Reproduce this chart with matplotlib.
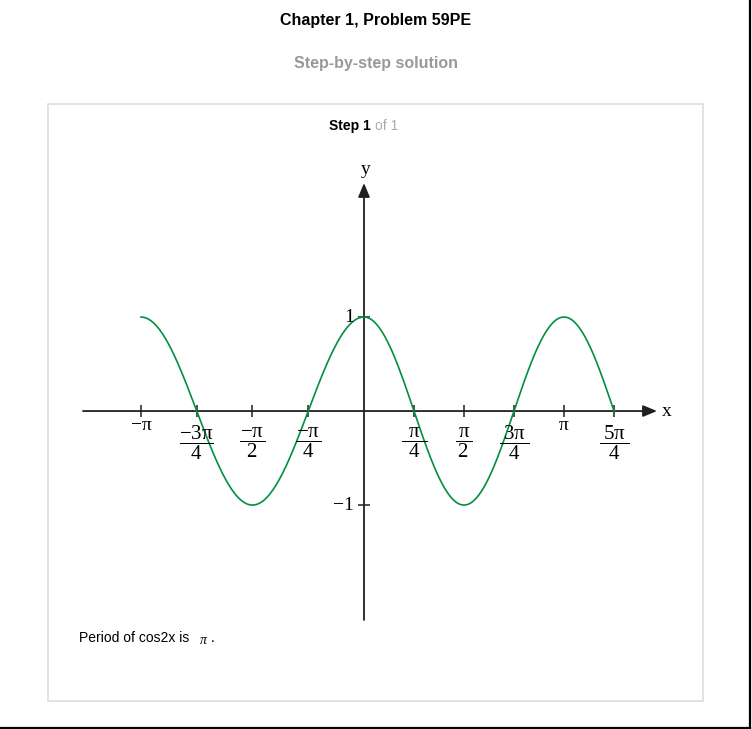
import numpy as np
import matplotlib
matplotlib.use('Agg')
import matplotlib.pyplot as plt
from matplotlib.patches import Rectangle

plt.rcParams['font.family'] = ['Liberation Sans', 'DejaVu Sans']
plt.rcParams['mathtext.fontset'] = 'custom'
plt.rcParams['mathtext.rm'] = 'Liberation Serif'
plt.rcParams['mathtext.it'] = 'Liberation Serif'
plt.rcParams['mathtext.bf'] = 'Liberation Serif:bold'

# x in units of pi
x_ticks = [-1, -0.75, -0.5, -0.25, 0.25, 0.5, 0.75, 1, 1.25]
x_labels = ['\u2212\u03c0', r'$\dfrac{-3\pi}{\;\;4\;\;}$', r'$\dfrac{-\pi}{\;\,2\;\,}$',
            r'$\dfrac{-\pi}{\;\,4\;\,}$', r'$\dfrac{\pi}{\;\,4\;\,}$', r'$\dfrac{\pi}{\,2\,}$',
            r'$\dfrac{3\pi}{\;\;4\;\;}$', '\u03c0', r'$\dfrac{5\pi}{\;\;4\;\;}$']
y_ticks = [1, -1]
y_labels = ['1', '\u22121']
x_start, x_end = -1, 1.25  # curve drawn from -pi to 5pi/4

W, H = 752, 729
fig = plt.figure(figsize=(W / 100, H / 100), dpi=100)

# page layer in pixel coords
page = fig.add_axes([0, 0, 1, 1])
page.set_xlim(0, W)
page.set_ylim(H, 0)
page.axis('off')
page.add_patch(Rectangle((48, 104), 655, 597, fill=False, ec='#dddddd', lw=1.2))
page.plot([0, 750], [727.5, 727.5], color='black', lw=1.6)
page.plot([749.5, 749.5], [0, 727.5], color='black', lw=1.6)
page.text(376, 20, 'Chapter 1, Problem 59PE', ha='center', va='center',
          fontsize=11.5, fontweight='bold', color='black')
page.text(376, 63, 'Step-by-step solution', ha='center', va='center',
          fontsize=11.5, fontweight='bold', color='#999999')
page.text(371, 126, 'Step 1', ha='right', va='center', fontsize=10,
          fontweight='bold', color='black')
page.text(375, 126, 'of 1', ha='left', va='center', fontsize=10, color='#aaaaaa')
page.text(79, 638, 'Period of cos2x is', ha='left', va='center', fontsize=10)
page.text(200, 640, '\u03c0', ha='left', va='center', fontsize=10,
          family='Liberation Serif', style='italic')
page.text(211, 638, '.', ha='left', va='center', fontsize=10)

# plot axes: left side of the drawing is stretched a bit compared to the right
K = 1.115
def fwd(t):
    t = np.asarray(t, dtype=float)
    return np.where(t < 0, t * K, t)
def inv(s):
    s = np.asarray(s, dtype=float)
    return np.where(s < 0, s / K, s)

ax = fig.add_axes([83 / W, 109 / H, 574 / W, 437 / H])
ax.set_xscale('function', functions=(fwd, inv))
ax.set_xlim(-1.26, 1.465)
ax.set_ylim(-2.223, 2.426)
ax.axis('off')
ax.patch.set_alpha(0)

axis_col = '#231f20'
arr = dict(arrowstyle='-|>,head_length=0.6,head_width=0.25', mutation_scale=14,
           color=axis_col, lw=1.3, shrinkA=0, shrinkB=0)
x0, x1 = ax.get_xlim()
y0, y1 = ax.get_ylim()
ax.annotate('', xy=(x1, 0), xytext=(x0, 0), arrowprops=arr)
ax.annotate('', xy=(0, y1), xytext=(0, y0), arrowprops=arr)
ax.annotate('x', xy=(x1, 0), xytext=(7, 0), textcoords='offset points',
            ha='center', va='center', fontsize=14, family='Liberation Serif')
ax.annotate('y', xy=(0, y1), xytext=(1.5, 10), textcoords='offset points',
            ha='center', va='center', fontsize=14, family='Liberation Serif')

t = np.linspace(x_start, x_end, 600)
ax.plot(t, np.cos(2 * np.pi * t), color='#009040', lw=1.2, zorder=3)

ax.plot(x_ticks, np.zeros(len(x_ticks)), ls='none', marker='|', ms=8, mew=1.1,
        color=axis_col)
ax.plot(np.zeros(len(y_ticks)), y_ticks, ls='none', marker='_', ms=8.5, mew=1.1,
        color=axis_col)

for xt, lab in zip(x_ticks, x_labels):
    frac = 'dfrac' in lab
    ax.annotate(lab, xy=(xt, 0), xytext=(0, -22.5 if frac else -10.5),
                textcoords='offset points', ha='center', va='center',
                fontsize=15 if frac else 14, family='Liberation Serif')
for yt, lab in zip(y_ticks, y_labels):
    ax.annotate(lab, xy=(0, yt), xytext=(-7, 0), textcoords='offset points',
                ha='right', va='center', fontsize=14, family='Liberation Serif')

fig.savefig('out.png', dpi=100)
